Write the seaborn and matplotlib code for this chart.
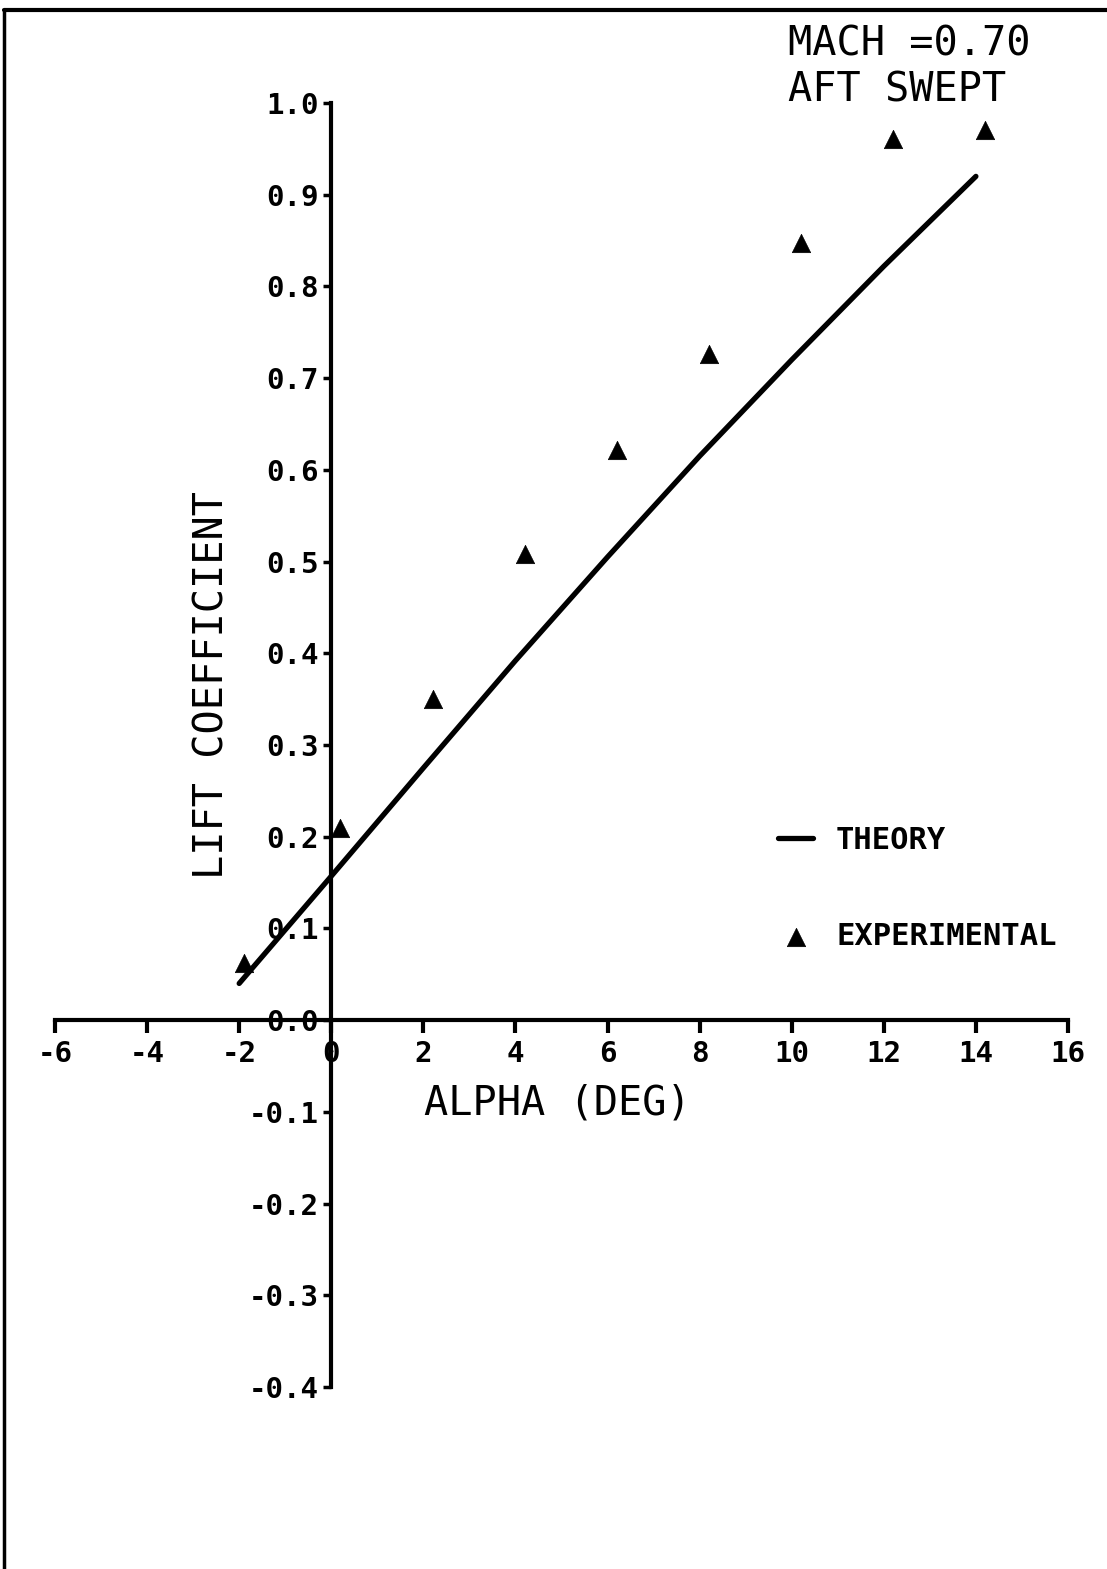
import matplotlib
matplotlib.use("Agg")
import matplotlib.pyplot as plt
from matplotlib.lines import Line2D
import seaborn as sns
import pandas as pd

# ---- data ----
theory_alpha = [-2.0, 0.0, 2.0, 4.0, 6.0, 8.0, 10.0, 12.0, 14.0]
theory_cl = [0.040, 0.157, 0.275, 0.392, 0.505, 0.615, 0.720, 0.822, 0.920]

exp_alpha = [-1.9, 0.2, 2.2, 4.2, 6.2, 8.2, 10.2, 12.2, 14.2]
exp_cl = [0.062, 0.210, 0.350, 0.508, 0.622, 0.726, 0.847, 0.961, 0.971]

x_ticks = [-6, -4, -2, 0, 2, 4, 6, 8, 10, 12, 14, 16]
y_ticks = [-0.4, -0.3, -0.2, -0.1, 0.0, 0.1, 0.2, 0.3, 0.4, 0.5, 0.6, 0.7, 0.8, 0.9, 1.0]
y_tick_labels = ["-0.4", "-0.3", "-0.2", "-0.1", "0.0", "0.1", "0.2", "0.3", "0.4",
                 "0.5", "0.6", "0.7", "0.8", "0.9", "1.0"]

theory_df = pd.DataFrame({"alpha": theory_alpha, "cl": theory_cl})
exp_df = pd.DataFrame({"alpha": exp_alpha, "cl": exp_cl})

sns.set_theme(style="white")
plt.rcParams["font.family"] = ["DejaVu Sans Mono", "DejaVu Sans"]
plt.rcParams["text.color"] = "black"
plt.rcParams["axes.labelcolor"] = "black"
plt.rcParams["xtick.color"] = "black"
plt.rcParams["ytick.color"] = "black"

W, H = 1107, 1569
fig = plt.figure(figsize=(W / 100, H / 100), dpi=100)
fig.patch.set_facecolor("white")

# axes placed so that x=-6..16 -> px 55..1068, y=1.0..-0.4 -> px 103..1387
left, right, top, bottom = 55, 1068, 103, 1387
ax = fig.add_axes([left / W, 1 - bottom / H, (right - left) / W, (bottom - top) / H])
ax.set_facecolor("white")

sns.lineplot(data=theory_df, x="alpha", y="cl", ax=ax, color="black",
             linewidth=3.8, label="THEORY")
sns.scatterplot(data=exp_df, x="alpha", y="cl", ax=ax, color="black",
                marker="^", s=175, edgecolor="black", linewidth=0.5,
                label="EXPERIMENTAL", zorder=5)

ax.set_xlim(-6, 16)
ax.set_ylim(-0.4, 1.0)

for s in ["top", "right"]:
    ax.spines[s].set_visible(False)
ax.spines["left"].set_position(("data", 0))
ax.spines["bottom"].set_position(("data", 0))
for s in ["left", "bottom"]:
    ax.spines[s].set_linewidth(3.0)
    ax.spines[s].set_color("black")

ax.set_xticks(x_ticks)
ax.set_xticklabels([str(t) for t in x_ticks], fontsize=21, fontweight="bold")
ax.set_yticks(y_ticks)
ax.set_yticklabels(y_tick_labels, fontsize=21, fontweight="bold")
ax.tick_params(axis="x", direction="out", length=9, width=3, pad=5, color="black",
               bottom=True)
ax.tick_params(axis="y", direction="out", length=6, width=2.5, pad=3, color="black",
               left=True)
ax.grid(False)

ax.set_xlabel("ALPHA (DEG)", fontsize=29)
ax.set_ylabel("LIFT COEFFICIENT", fontsize=29)
ax.xaxis.set_label_coords((557 - left) / (right - left), (bottom - 1103) / (bottom - top))
ax.yaxis.set_label_coords((212 - left) / (right - left), (bottom - 685) / (bottom - top))
ax.xaxis.label.set_va("center")
ax.yaxis.label.set_va("center")

leg = ax.legend(loc="upper left",
                bbox_to_anchor=((778 - left) / (right - left), (bottom - 826) / (bottom - top)),
                frameon=False, prop={"weight": "bold", "size": 22},
                handlelength=1.15, handletextpad=0.75, labelspacing=2.2,
                borderpad=0, borderaxespad=0, markerscale=1.0)

fig.text(788 / W, 1 - 45 / H, "MACH =0.70", fontsize=29, ha="left", va="center")
fig.text(788 / W, 1 - 90 / H, "AFT SWEPT", fontsize=29, ha="left", va="center")

# scan border (left and top edges)
fig.add_artist(Line2D([4 / W, 4 / W], [0, 1 - 10 / H], transform=fig.transFigure,
                      color="black", linewidth=2.5))
fig.add_artist(Line2D([4 / W, 1], [1 - 10 / H, 1 - 10 / H], transform=fig.transFigure,
                      color="black", linewidth=3))

fig.savefig("out.png", dpi=100, facecolor="white")
